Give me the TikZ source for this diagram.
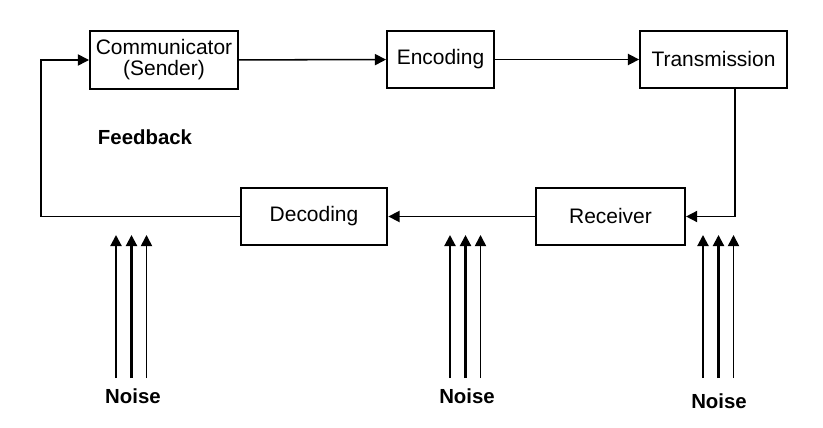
\documentclass[tikz,border=0pt]{standalone}
\usepackage{fontspec}
\setmainfont{Liberation Sans}
\usetikzlibrary{arrows.meta}

\begin{document}
\begin{tikzpicture}[x=0.03cm,y=0.03cm,
  box/.style={draw=black,line width=2pt,minimum height=49pt,align=center,
    font=\fontsize{17.9}{20}\selectfont,inner sep=0pt},
  link/.style={line width=1.3pt,-{Triangle[length=9.5pt,width=9.5pt]}},
  noisearrow/.style={line width=1.8pt,-{Triangle[length=9.5pt,width=9.5pt]}},
  lbl/.style={font=\fontsize{17.4}{19}\selectfont\bfseries,inner sep=0pt}]
\useasboundingbox (0,0) rectangle (823,-428);
% boxes
\node [box,minimum width=126pt] (comm) at (164,-60) {Communicator\\[-2pt](Sender)};
\node [box,minimum width=91pt] (enc) at (440.5,-59.5) {Encoding};
\node [box,minimum width=125pt] (trans) at (713.5,-59.5) {Transmission};
\node [box,minimum width=127pt] (rec) at (610.5,-216.5) {Receiver};
\node [box,minimum width=125pt] (dec) at (314,-216.5) {Decoding};
\node [lbl] (feedback) at (145,-137) {Feedback};
% corners
\coordinate (down) at (735,-216.5);
\coordinate (back) at (41,-60);
% connectors
\draw [link] (comm) -- (enc);
\draw [link] (enc) -- (trans);
\draw [link] (trans.south -| down) -- (down) -- (rec.east);
\draw [link] (rec) -- (dec);
\draw [link] (dec.west) -| (back) -- (comm.west);
% noise
\foreach \x/\lx/\ly in {116/133/396, 450/467/396, 703/719/401} {
  \draw [noisearrow] (\x,-378) -- (\x,-235);
  \draw [noisearrow] (\x+15.5,-378) -- (\x+15.5,-235);
  \draw [noisearrow,line width=1.4pt] (\x+30.5,-378) -- (\x+30.5,-235);
  \node [lbl] (noise\x) at (\lx,-\ly) {Noise};
}
\end{tikzpicture}
\end{document}
